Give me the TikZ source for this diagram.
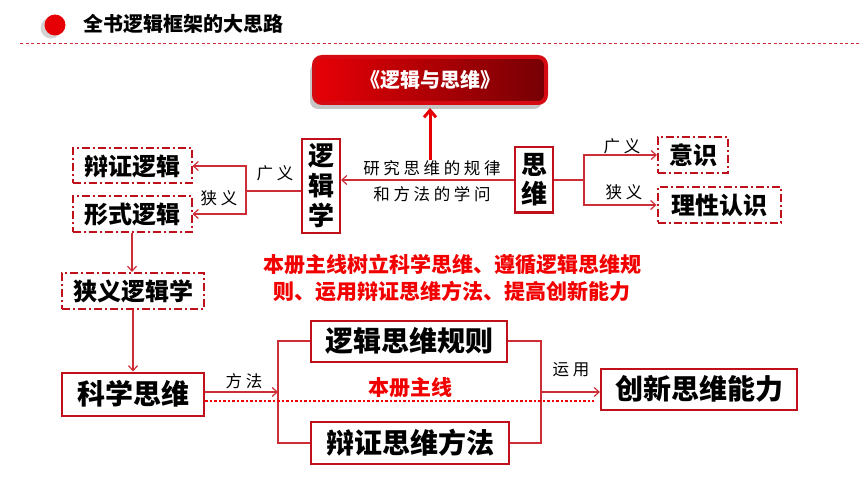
\documentclass[tikz,border=0pt]{standalone}
\usepackage{fontspec}
\setmainfont{Noto Sans CJK SC}
\newfontfamily\notefont[LetterSpace=22]{Noto Sans CJK SC}
\usetikzlibrary{arrows.meta,shadows}

\definecolor{boxred}{RGB}{192,16,28}
\definecolor{linered}{RGB}{205,45,55}
\definecolor{mainred}{RGB}{242,0,0}
\definecolor{bookleft}{RGB}{230,0,6}
\definecolor{bookright}{RGB}{118,0,4}
\definecolor{bookrim}{RGB}{214,10,18}

\begin{document}
\begin{tikzpicture}[x=1pt,y=-1pt,
	redbox/.style={draw=boxred, line width=2pt, inner sep=0pt, font=\fontsize{24}{26}\selectfont\bfseries},
	dashredbox/.style={redbox, dash pattern=on 8pt off 3pt on 2pt off 3pt},
	redline/.style={draw=linered, line width=1.2pt},
	redarrow/.style={redline, -{Straight Barb[length=5pt,width=9pt]}},
	labeltext/.style={font=\notefont\fontsize{16.5}{18}\selectfont}]
	\useasboundingbox (0,0) rectangle (860,484);
	% header
	\node[circle, fill=bookleft, minimum size=21pt, inner sep=0pt,
		drop shadow={shadow xshift=-4pt, shadow yshift=-3pt, opacity=.35}] (dot) at (55,25) {};
	\node[anchor=west, font=\fontsize{20}{22}\selectfont\bfseries] (title) at (80,24) {全书逻辑框架的大思路};
	\draw[linered, line width=1pt, dash pattern=on 3pt off 2.5pt] (20,44) -- (860,44);
	% book
	\node[rounded corners=8pt, draw=bookrim, line width=4pt, left color=bookleft, right color=bookright,
		minimum width=232pt, minimum height=46pt, text=white, font=\fontsize{20}{22}\selectfont\bfseries,
		drop shadow={shadow xshift=-4pt, shadow yshift=-6pt, opacity=.45}] (book) at (430,80) {《逻辑与思维》};
	\coordinate (upstart) at (430,160);
	\draw[draw=bookleft, line width=3pt, shorten >=3pt, -{Straight Barb[length=7pt,width=12pt]}] (upstart) -- (book.south);
	% upper part
	\node[redbox, align=center, font=\fontsize{26}{30}\selectfont\bfseries, minimum width=38pt, minimum height=94pt] (ljx) at (321,186) {逻\\辑\\学};
	\node[redbox, align=center, font=\fontsize{26}{29}\selectfont\bfseries, minimum width=38pt, minimum height=65pt] (sw) at (534,180) {思\\维};
	\node[dashredbox, minimum width=119pt, minimum height=35pt] (bzlj) at (132,166) {辩证逻辑};
	\node[dashredbox, minimum width=119pt, minimum height=35pt] (xslj) at (132,214) {形式逻辑};
	\node[dashredbox, minimum width=70pt, minimum height=36pt] (yishi) at (693,155) {意识};
	\node[dashredbox, minimum width=123pt, minimum height=36pt] (lxrs) at (719,205) {理性认识};
	\draw[redarrow] (sw.west) -- (sw.west -| ljx.east);
	\node[labeltext] (yj1) at (432,168) {研究思维的规律};
	\node[labeltext] (yj2) at (432,194) {和方法的学问};
	\coordinate (swfork) at (584,180);
	\draw[redline] (sw.east) -- (swfork);
	\draw[redarrow] (swfork) |- (yishi.west);
	\draw[redarrow] (swfork) |- (lxrs.west);
	\node[labeltext] (gy1) at (622,146) {广义};
	\node[labeltext] (xy1) at (624,192) {狭义};
	\coordinate (ljxfork) at (246,191);
	\draw[redline] (ljx.west |- ljxfork) -- (ljxfork);
	\draw[redarrow] (ljxfork) |- (bzlj.east);
	\draw[redarrow] (ljxfork) |- (xslj.east);
	\node[labeltext] (gy2) at (275,173) {广义};
	\node[labeltext] (xy2) at (219,198) {狭义};
	% main line text
	\node[text=mainred, align=center, font=\fontsize{21}{27}\selectfont\bfseries] (zx) at (452,278)
		{本册主线树立科学思维、遵循逻辑思维规\\则、运用辩证思维方法、提高创新能力};
	% lower part
	\node[dashredbox, minimum width=142pt, minimum height=36pt] (xyljx) at (133,291) {狭义逻辑学};
	\node[redbox, font=\fontsize{28}{30}\selectfont\bfseries, minimum width=142pt, minimum height=43pt] (kxsw) at (133,394) {科学思维};
	\node[redbox, font=\fontsize{28}{30}\selectfont\bfseries, minimum width=196pt, minimum height=41pt] (ljgz) at (409,341) {逻辑思维规则};
	\node[redbox, font=\fontsize{28}{30}\selectfont\bfseries, minimum width=198pt, minimum height=42pt] (bzff) at (410,443) {辩证思维方法};
	\node[redbox, font=\fontsize{28}{30}\selectfont\bfseries, minimum width=196pt, minimum height=41pt] (cxnl) at (699,389) {创新思维能力};
	\draw[redarrow] (xslj.south) -- (xslj.south |- xyljx.north);
	\draw[redarrow] (xyljx.south) -- (kxsw.north);
	\coordinate (lfork) at (278,392);
	\coordinate (rfork) at (541,392);
	\draw[redarrow] (kxsw.east |- lfork) -- (lfork);
	\draw[redline] (ljgz.west) -| (lfork) |- (bzff.west);
	\draw[redline] (ljgz.east) -| (rfork) |- (bzff.east);
	\draw[redarrow] (rfork) -- (rfork -| cxnl.west);
	\node[labeltext] (ff) at (244,381) {方法};
	\node[labeltext] (yy) at (571,370) {运用};
	\coordinate (mainend) at (594,401);
	\draw[mainred, line width=2.8pt, dash pattern=on 2.5pt off 2pt] (kxsw.east |- mainend) -- (mainend);
	\node[text=mainred, font=\fontsize{21}{23}\selectfont\bfseries] (bczx) at (410,388) {本册主线};
\end{tikzpicture}
\end{document}
